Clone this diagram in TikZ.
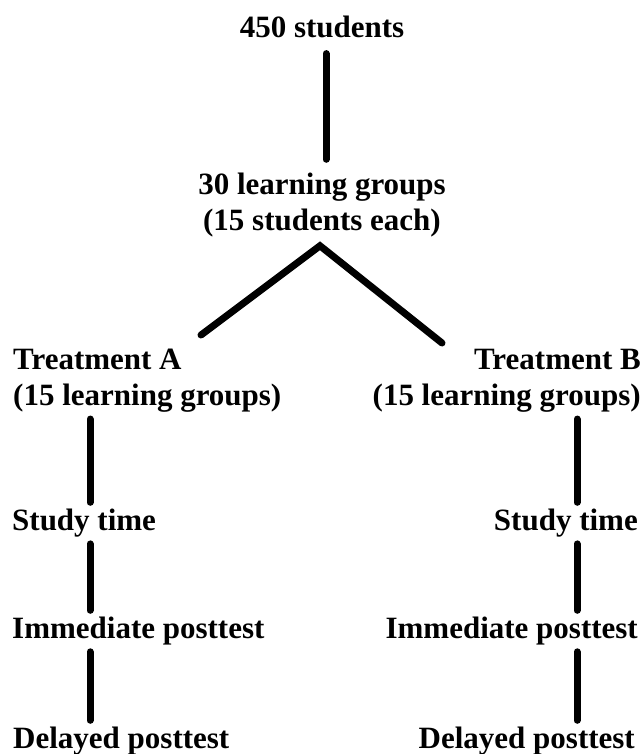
\documentclass[tikz,border=0pt]{standalone}
\usepackage{fontspec}
\setmainfont{Liberation Serif}
\usetikzlibrary{calc}

\tikzset{
  lbl/.style={inner sep=0pt, font=\bfseries\fontsize{31}{36}\selectfont},
  link/.style={line width=7pt, line cap=round, shorten <=7pt, shorten >=6pt},
}

\begin{document}
\begin{tikzpicture}[x=1pt,y=-1pt]
\useasboundingbox (0,0) rectangle (644,754);

% top of the tree
\node[lbl, anchor=base] (top) at (322,38) {450 students};
\node[lbl, anchor=base, align=center] (groups) at (322,230) {30 learning groups\\(15 students each)};

% the two arms
\node[lbl, anchor=base west, align=left] (tA) at (13,405) {Treatment A\\(15 learning groups)};
\node[lbl, anchor=base east, align=right] (tB) at (641,405) {Treatment B\\(15 learning groups)};

\node[lbl, anchor=base west] (sA) at (12,530) {Study time};
\node[lbl, anchor=base west] (iA) at (12,638) {Immediate posttest};
\node[lbl, anchor=base west] (dA) at (13,748) {Delayed posttest};

\node[lbl, anchor=base east] (sB) at (638,530) {Study time};
\node[lbl, anchor=base east] (iB) at (638,638) {Immediate posttest};
\node[lbl, anchor=base east] (dB) at (635,748) {Delayed posttest};

\coordinate (colA) at (90,0);
\coordinate (colB) at (577,0);
\coordinate (split) at ($(groups.south)+(-2,9)$);
\coordinate (toA) at (201,335);
\coordinate (toB) at (442,343);

\draw[link, shorten <=15pt, shorten >=13pt] ([xshift=4pt]top.south) -- ([xshift=4pt]groups.north);
\draw[link, shorten <=0pt, shorten >=0pt] (toA) -- (split) -- (toB);

\foreach \a/\b in {tA/sA, sA/iA, iA/dA} {
  \draw[link] (colA |- \a.south) -- (colA |- \b.north);
  \draw[link] (colB |- \a.south) -- (colB |- \b.north);
}

\end{tikzpicture}
\end{document}
